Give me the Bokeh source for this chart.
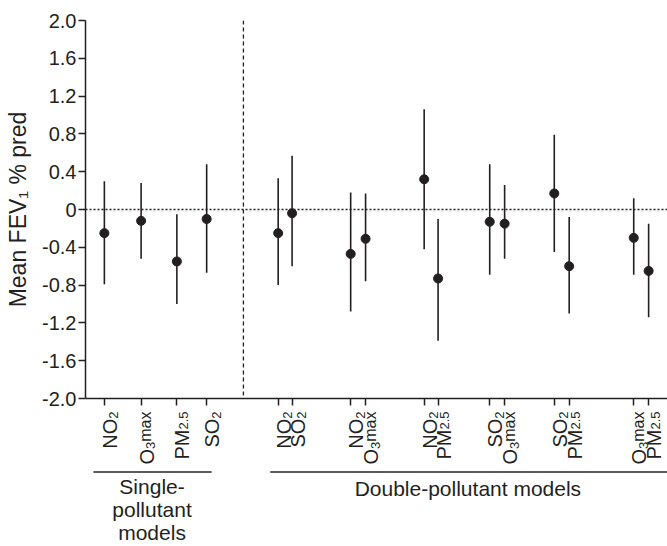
from math import pi
from bokeh.plotting import figure
from bokeh.models import Range1d, FixedTicker, Span, ColumnDataSource
from bokeh.layouts import column
from bokeh.embed import file_html
from bokeh.resources import INLINE
from bokeh.core.properties import value

# ---------------- data ----------------
single_labels = ["NO2", "O3max", "PM2.5", "SO2"]
single_mean = [-0.25, -0.12, -0.55, -0.10]
single_lower = [-0.79, -0.52, -1.00, -0.67]
single_upper = [0.30, 0.28, -0.05, 0.48]

double_labels = ["NO2", "SO2", "NO2", "O3max", "NO2", "PM2.5",
                 "SO2", "O3max", "SO2", "PM2.5", "O3max", "PM2.5"]
double_mean = [-0.25, -0.04, -0.47, -0.31, 0.32, -0.73,
               -0.13, -0.15, 0.17, -0.60, -0.30, -0.65]
double_lower = [-0.80, -0.60, -1.08, -0.76, -0.42, -1.39,
                -0.69, -0.52, -0.45, -1.10, -0.69, -1.14]
double_upper = [0.33, 0.57, 0.18, 0.17, 1.06, -0.10,
                0.48, 0.26, 0.79, -0.08, 0.12, -0.15]

y_ticks = [2.0, 1.6, 1.2, 0.8, 0.4, 0, -0.4, -0.8, -1.2, -1.6, -2.0]
y_tick_labels = ["2.0", "1.6", "1.2", "0.8", "0.4", "0", "-0.4", "-0.8", "-1.2", "-1.6", "-2.0"]

group_single = ["Single-", "pollutant", "models"]
group_double = "Double-pollutant models"
y_title = "Mean FEV₁ % pred"

# how each pollutant name is typeset: (text piece, style)
LABEL_PIECES = {
    "NO2": [("NO", "main"), ("2", "sub")],
    "SO2": [("SO", "main"), ("2", "sub")],
    "O3max": [("O", "main"), ("3", "sub"), ("max", "sup")],
    "PM2.5": [("PM", "main"), ("2.5", "small")],
}

# ---------------- layout ----------------
single_x = [104, 141, 177, 207]
double_x = [279, 293, 352, 367, 426, 440, 492, 507, 557, 572, 637, 652]
divider_x = 244
X0, X1 = 85, 671
W = 667
LEFT = 85
TOP = 20
MAIN_H = 410
LAB_H = 136

INK = "#231f20"
FONT = "Liberation Sans"

# style -> (font size px, baseline shift px to the right of the main baseline)
STYLE = {"main": (20, 0.0), "sub": (13, 4.0), "sup": (16, -1.0), "small": (13, 1.0)}
BASE = 5.5  # main baseline offset from tick (screen px)

# Arial / Liberation Sans advance widths (per 1000 em)
ADV = {"N": 722, "O": 778, "S": 667, "P": 667, "M": 833, "2": 556, "3": 556,
       "5": 556, ".": 278, "m": 833, "a": 556, "x": 500}


def text_width(s, fs):
    return sum(ADV[c] for c in s) * fs / 1000.0


x_range = Range1d(X0, X1)
px_per_unit = (W - LEFT) / (X1 - X0)

p = figure(width=W, height=MAIN_H, x_range=x_range, y_range=Range1d(-2.0, 2.0),
           output_backend="svg", toolbar_location=None,
           min_border_left=LEFT, min_border_right=0, min_border_top=TOP, min_border_bottom=12)
p.outline_line_color = None
p.xgrid.visible = False
p.ygrid.visible = False

xs = single_x + double_x
means = single_mean + double_mean
lows = single_lower + double_lower
highs = single_upper + double_upper
src = ColumnDataSource(dict(x=xs, mean=means, low=lows, high=highs))

p.add_layout(Span(location=0, dimension="width", line_color=INK, line_width=1.5, line_dash="2 2"))
p.add_layout(Span(location=divider_x, dimension="height", line_color=INK, line_width=1.3, line_dash="4 3"))

p.segment(x0="x", y0="low", x1="x", y1="high", source=src, line_color=INK, line_width=1.6)
p.scatter(x="x", y="mean", source=src, size=9, fill_color=INK, line_color=INK)

# y axis
ya = p.yaxis[0]
ya.ticker = FixedTicker(ticks=y_ticks)
ya.major_label_overrides = {t: l for t, l in zip(y_ticks, y_tick_labels)}
ya.minor_tick_line_color = None
ya.major_tick_out = 7
ya.major_tick_in = 0
ya.major_label_standoff = 2
ya.axis_line_width = 1.5
ya.axis_line_color = INK
ya.major_tick_line_color = INK
ya.major_tick_line_width = 1.5
ya.major_label_text_font = FONT
ya.major_label_text_font_size = "20px"
ya.major_label_text_color = INK
ya.axis_label = y_title
ya.axis_label_text_font = FONT
ya.axis_label_text_font_size = "23px"
ya.axis_label_text_font_style = "normal"
ya.axis_label_text_color = INK
ya.axis_label_standoff = 8

# x axis (ticks only; labels are typeset below)
xa = p.xaxis[0]
xa.ticker = FixedTicker(ticks=xs)
xa.major_label_overrides = {x: "" for x in xs}
xa.minor_tick_line_color = None
xa.major_tick_out = 7
xa.major_tick_in = 0
xa.major_label_standoff = 0
xa.axis_line_width = 1.5
xa.axis_line_color = INK
xa.major_tick_line_color = INK
xa.major_tick_line_width = 1.5

# ---------------- tick labels + group labels ----------------
g = figure(width=W, height=LAB_H, x_range=x_range, y_range=Range1d(-LAB_H, 0),
           output_backend="svg", toolbar_location=None,
           min_border_left=LEFT, min_border_right=0, min_border_top=0, min_border_bottom=0)
g.outline_line_color = None
g.xgrid.visible = False
g.ygrid.visible = False
g.xaxis.visible = False
g.yaxis.visible = False

rows = {s: dict(x=[], y=[], text=[]) for s in STYLE}
for tx, name in zip(xs, single_labels + double_labels):
    end = -1.0
    for txt, style in reversed(LABEL_PIECES[name]):
        fs, dx = STYLE[style]
        rows[style]["x"].append(tx + (BASE + dx) / px_per_unit)
        rows[style]["y"].append(end)
        rows[style]["text"].append(txt)
        end -= text_width(txt, fs)

for style, d in rows.items():
    fs, _ = STYLE[style]
    g.text(x="x", y="y", text="text", source=ColumnDataSource(d), angle=pi / 2,
           text_font=value(FONT), text_font_size=f"{fs}px", text_color=INK,
           text_align="right", text_baseline="alphabetic")

g.segment(x0=[93, 271], y0=[-61.5, -61.5], x1=[212, X1], y1=[-61.5, -61.5],
          line_color="#5a5a5a", line_width=2)
g.text(x=[152, 152, 152], y=[-76, -99, -122], text=group_single,
       text_font=value(FONT), text_font_size="21px", text_color=INK,
       text_align="center", text_baseline="middle")
g.text(x=[470], y=[-78], text=[group_double],
       text_font=value(FONT), text_font_size="21px", text_color=INK,
       text_align="center", text_baseline="middle")

layout = column(p, g, spacing=0)
open("out.html", "w").write(file_html(layout, INLINE))
